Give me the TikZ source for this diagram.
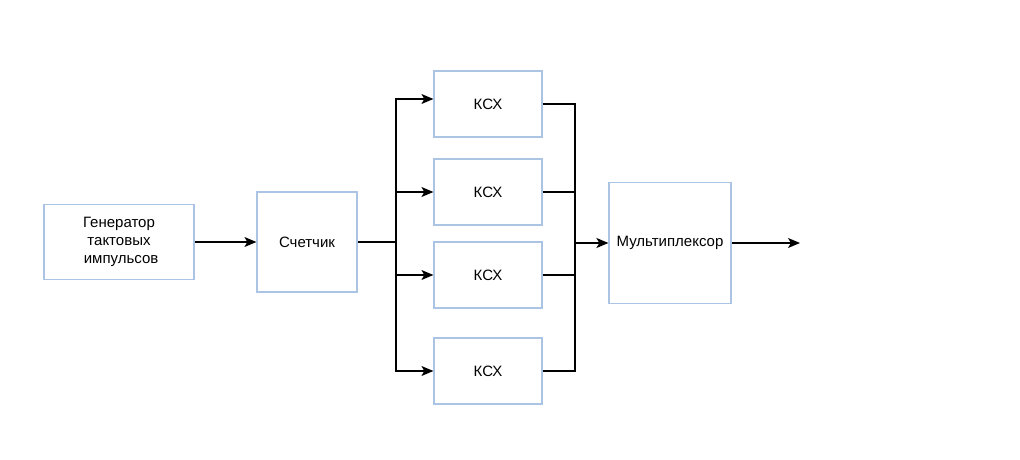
\documentclass[tikz,border=0pt]{standalone}
\usepackage{fontspec}
\setmainfont{Liberation Sans}
\usetikzlibrary{arrows.meta}
\definecolor{boxcol}{RGB}{172,196,228}
\tikzset{
  blk/.style={draw=boxcol, line width=1.2pt, fill=white, inner sep=0pt, align=center, font=\fontsize{15}{18}\selectfont},
  con/.style={draw=black, line width=1.2pt},
  arr/.style={con, -{Stealth[length=12pt,width=10pt,inset=3pt]}}
}
\begin{document}
\begin{tikzpicture}[x=1pt,y=-1pt]
\useasboundingbox (0,0) rectangle (1020,460);
\node[blk, minimum width=150pt, minimum height=75pt] (gen) at (119,242) {Генератор\\тактовых\\ \ импульсов};
\node[blk, minimum width=100pt, minimum height=100pt] (cnt) at (307,242) {Счетчик};
\node[blk, minimum width=108pt, minimum height=66pt] (k1) at (488,104) {КСХ};
\node[blk, minimum width=108pt, minimum height=66pt] (k2) at (488,192) {КСХ};
\node[blk, minimum width=108pt, minimum height=66pt] (k3) at (488,275) {КСХ};
\node[blk, minimum width=108pt, minimum height=66pt] (k4) at (488,371) {КСХ};
\node[blk, minimum width=122pt, minimum height=121pt] (mux) at (670,243) {Мультиплексор};
\coordinate (bl) at (396,242);
\coordinate (br) at (575,243);
\coordinate (out) at (800,243);
\draw[arr] (gen.east) -- (cnt.west);
\draw[con, line width=2pt] (cnt.east) -- (bl);
\draw[arr] (bl) |- ([yshift=5pt]k1.west);
\draw[arr] (bl) |- (k2.west);
\draw[arr] (bl) |- (k3.west);
\draw[arr] (bl) |- (k4.west);
\draw[con] (k1.east) -| (br);
\draw[con] (k2.east) -| (br);
\draw[con] (k3.east) -| (br);
\draw[con] (k4.east) -| (br);
\draw[arr, line width=1.8pt] (br) -- (mux.west);
\draw[arr] (mux.east) -- (out);
\end{tikzpicture}
\end{document}
